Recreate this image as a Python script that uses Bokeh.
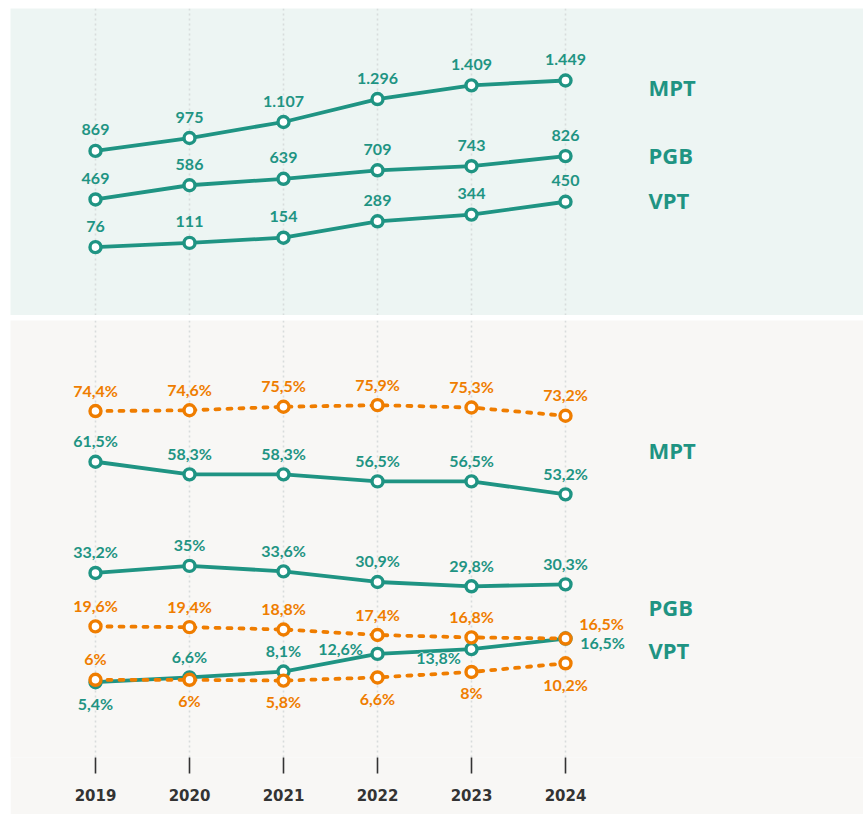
from bokeh.plotting import figure
from bokeh.layouts import column
from bokeh.models import ColumnDataSource, FixedTicker, Range1d, Grid
from bokeh.core.properties import value
from bokeh.embed import file_html
from bokeh.resources import INLINE

# ---------------- data ----------------
years = [2019, 2020, 2021, 2022, 2023, 2024]
series_names = ["MPT", "PGB", "VPT"]

# top panel: absolute numbers
abs_mpt = [869, 975, 1107, 1296, 1409, 1449]
abs_pgb = [469, 586, 639, 709, 743, 826]
abs_vpt = [76, 111, 154, 289, 344, 450]

# bottom panel: shares (teal solid and orange dotted)
teal_mpt = [61.5, 58.3, 58.3, 56.5, 56.5, 53.2]
teal_pgb = [33.2, 35.0, 33.6, 30.9, 29.8, 30.3]
teal_vpt = [5.4, 6.6, 8.1, 12.6, 13.8, 16.5]
orange_mpt = [74.4, 74.6, 75.5, 75.9, 75.3, 73.2]
orange_pgb = [19.6, 19.4, 18.8, 17.4, 16.8, 16.5]
orange_vpt = [6.0, 6.0, 5.8, 6.6, 8.0, 10.2]

# label placement codes per point
place_teal_vpt = ["below", "above", "above", "upleft", "downleft", "downright"]
place_orange_pgb = ["above", "above", "above", "above", "above", "upright"]
place_orange_vpt = ["above", "below", "below", "below", "below", "below"]

# ---------------- styles ----------------
TEAL = "#1f9483"
ORANGE = "#ef7d00"
BG_TOP = "#edf5f3"
BG_BOT = "#f8f7f5"
GRID = "#d8dcdc"
LABEL_FONT = "Lato"
NAME_FONT = "Open Sans"
YEAR_FONT = "DejaVu Sans"

OFFS = {"above": (0, -21), "below": (0, 21), "upleft": (-37, -5),
        "downleft": (-33, 8), "downright": (37, 4), "upright": (36, -15)}
HALO_CODES = {"downleft"}

X0 = 2019 - 85 / 94.0
W = 853
X1 = X0 + W / 94.0


def fmt_abs(v):
    return f"{v:,}".replace(",", ".")


def fmt_pct(v):
    return f"{v:g}".replace(".", ",") + "%"


def base_fig(height, y0, y1, bg, border_bottom, x_axis):
    p = figure(width=W, height=height,
               x_range=Range1d(X0, X1), y_range=Range1d(y0, y1),
               output_backend="svg", toolbar_location=None,
               x_axis_type=("linear" if x_axis else None), y_axis_type=None,
               min_border_left=0, min_border_right=0, min_border_top=0,
               min_border_bottom=border_bottom,
               background_fill_color=bg, border_fill_color=bg,
               outline_line_color=None)
    if x_axis:
        grid = p.xgrid[0]
    else:
        grid = Grid(dimension=0, ticker=FixedTicker(ticks=years))
        p.add_layout(grid)
    grid.ticker = FixedTicker(ticks=years)
    grid.grid_line_color = GRID
    grid.grid_line_width = 1.6
    grid.grid_line_dash = "2 3"
    return p


def add_series(p, vals, color, dashed=False):
    src = ColumnDataSource(dict(x=years, y=vals))
    if dashed:
        p.line("x", "y", source=src, line_color=color, line_width=3.8,
               line_dash="4 8", line_cap="round")
    else:
        p.line("x", "y", source=src, line_color=color, line_width=3.8)
    p.scatter("x", "y", source=src, size=11, fill_color="white",
              line_color=color, line_width=3.4)


def label_source(vals, labels, places, halo):
    rows = [i for i, c in enumerate(places) if (c in HALO_CODES) == halo]
    return ColumnDataSource(dict(
        x=[years[i] for i in rows], y=[vals[i] for i in rows],
        t=[labels[i] for i in rows],
        xo=[OFFS[places[i]][0] for i in rows],
        yo=[OFFS[places[i]][1] for i in rows]))


def draw_labels(p, src, color, outline=None):
    kw = {}
    if outline:
        kw["text_outline_color"] = outline
    p.text("x", "y", text="t", source=src, x_offset="xo", y_offset="yo",
           text_align="center", text_baseline="middle",
           text_font=value(LABEL_FONT), text_font_style="bold",
           text_font_size="16px", text_color=color, **kw)


def add_labels(p, vals, labels, places, color):
    draw_labels(p, label_source(vals, labels, places, False), color)
    halo_src = label_source(vals, labels, places, True)
    if len(halo_src.data["x"]):
        # white halo underneath, then the coloured text on top
        draw_labels(p, halo_src, "white", outline="white")
        draw_labels(p, halo_src, color)


# ---------------- top panel ----------------
top = base_fig(307, -487, 2042, BG_TOP, 0, False)
top_sets = [abs_mpt, abs_pgb, abs_vpt]
for vals in top_sets:
    add_series(top, vals, TEAL)
for vals in top_sets:
    add_labels(top, vals, [fmt_abs(v) for v in vals], ["above"] * 6, TEAL)

top_names = ColumnDataSource(dict(
    x=[years[-1]] * 3, y=[v[-1] for v in top_sets], t=series_names,
    yo=[7, -1, -2]))
top.text("x", "y", text="t", source=top_names, x_offset=83, y_offset="yo",
         text_align="left", text_baseline="middle",
         text_font=value(NAME_FONT), text_font_style="bold",
         text_font_size="22px", text_color=TEAL)

# ---------------- bottom panel ----------------
BOT_H = 494
bot = base_fig(BOT_H, -13.77, 97.45, BG_BOT, BOT_H - 437, True)
ax = bot.xaxis[0]
ax.ticker = FixedTicker(ticks=years)
ax.major_label_overrides = {y: str(y) for y in years}
ax.axis_line_color = None
ax.major_tick_line_color = "#333333"
ax.major_tick_line_width = 1.6
ax.major_tick_in = 0
ax.major_tick_out = 16
ax.minor_tick_line_color = None
ax.major_label_standoff = 15
ax.major_label_text_font = YEAR_FONT
ax.major_label_text_font_style = "bold"
ax.major_label_text_font_size = "15px"
ax.major_label_text_color = "#333333"

teal_sets = [(teal_mpt, ["above"] * 6), (teal_pgb, ["above"] * 6),
             (teal_vpt, place_teal_vpt)]
orange_sets = [(orange_mpt, ["above"] * 6), (orange_pgb, place_orange_pgb),
               (orange_vpt, place_orange_vpt)]

for vals, pl in teal_sets:
    add_series(bot, vals, TEAL)
for vals, pl in orange_sets:
    add_series(bot, vals, ORANGE, dashed=True)
for vals, pl in teal_sets:
    add_labels(bot, vals, [fmt_pct(v) for v in vals], pl, TEAL)
for vals, pl in orange_sets:
    add_labels(bot, vals, [fmt_pct(v) for v in vals], pl, ORANGE)

bot_names = ColumnDataSource(dict(
    x=[years[-1]] * 3,
    y=[(a[-1] + b[-1]) / 2 for (a, _), (b, _) in zip(teal_sets, orange_sets)],
    t=series_names, yo=[-5, -4, -1]))
bot.text("x", "y", text="t", source=bot_names, x_offset=83, y_offset="yo",
         text_align="left", text_baseline="middle",
         text_font=value(NAME_FONT), text_font_style="bold",
         text_font_size="22px", text_color=TEAL)

layout = column(top, bot, spacing=5, margin=(8, 0, 0, 10))
open("out.html", "w").write(file_html(layout, INLINE))
